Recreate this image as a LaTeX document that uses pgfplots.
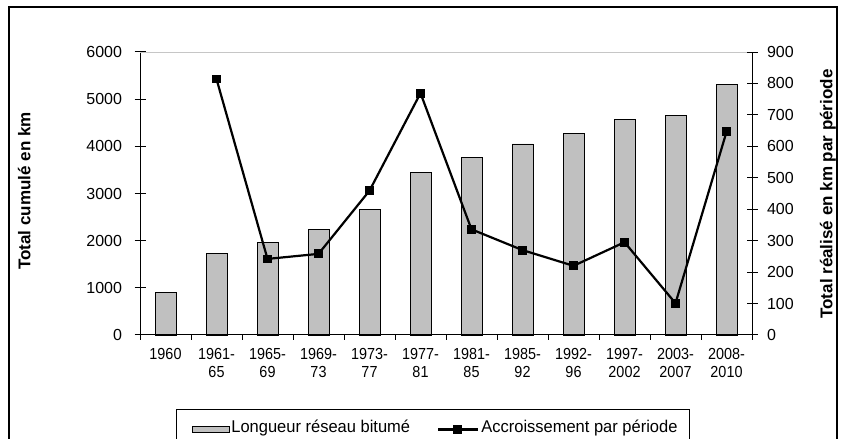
\documentclass[border=0pt]{standalone}
\usepackage{fontspec}
\setmainfont{Liberation Sans}
\newfontfamily\narrowfont{Liberation Sans}[FakeStretch=0.9]
\newfontfamily\legfont{Liberation Sans}[FakeStretch=0.97]
\usepackage{pgfplots}
\pgfplotsset{compat=1.18}
\definecolor{barfill}{HTML}{C0C0C0}
\pgfplotsset{
  barlegend/.style={legend image code/.code={\path (0pt,0pt); \draw[fill=barfill,draw=black,line width=0.8pt] (5pt,-3pt) rectangle (42pt,3pt);}},
  linelegend/.style={legend image code/.code={\draw[##1, mark repeat=2, mark phase=2] plot coordinates {(0pt,0pt) (19pt,0pt) (40pt,0pt)};}},
  common/.style={at={(140pt,104pt)}, anchor=south west, scale only axis,
    width=612pt, height=283pt, xmin=-0.5, xmax=11.5, clip=false},
}
\begin{document}
\begin{tikzpicture}[x=1pt,y=1pt]
\useasboundingbox (0,0) rectangle (846,439);
\draw[line width=1.3pt] (9,-10) -- (9,432) -- (837,432) -- (837,-10);

% axis 1: bars, left y axis
\begin{axis}[common,
  ymin=0, ymax=6000,
  hide x axis,
  axis y line*=left,
  ytick={0,1000,...,6000},
  tick align=center, major tick length=11pt,
  axis line style={line width=1pt},
  tick style={line width=1pt, black},
  yticklabel style={font=\fontsize{16}{19}\selectfont, /pgf/number format/1000 sep={}, /pgf/number format/assume math mode=true, xshift=-9pt},
  extra y ticks={6000}, extra y tick labels={},
  extra y tick style={grid=major, major grid style={gray!45, line width=0.8pt}, major tick length=0pt},
  every axis y label/.style={at={(axis description cs:-0.189,0.509)}, rotate=90, anchor=center, font=\bfseries\fontsize{17}{20}\selectfont},
  ylabel={Total cumulé en km},
]
\addplot[ybar, bar width=21pt, fill=barfill, draw=black, line width=0.8pt] coordinates {
(0,910) (1,1735) (2,1960) (3,2230) (4,2670) (5,3445) (6,3770) (7,4050) (8,4270) (9,4570) (10,4650) (11,5320)};
\end{axis}

% axis 2: line, right y axis, legend
\begin{axis}[common,
  ymin=0, ymax=900,
  hide x axis,
  axis y line*=right,
  ytick={0,100,...,900},
  tick align=center, major tick length=11pt,
  axis line style={line width=1pt},
  tick style={line width=1pt, black},
  yticklabel style={font=\fontsize{16}{19}\selectfont, /pgf/number format/1000 sep={}, /pgf/number format/assume math mode=true, xshift=6pt},
  every axis y label/.style={at={(axis description cs:1.124,0.498)}, rotate=90, anchor=center, font=\bfseries\fontsize{17}{20}\selectfont},
  ylabel={Total réalisé en km par période},
  legend columns=2,
  legend style={at={(axis description cs:0.0588,-0.2615)}, anchor=north west,
    draw=black, line width=1pt, fill=white,
    inner xsep=10pt, inner ysep=9pt,
    font=\legfont\fontsize{17}{20}\selectfont,
    nodes={inner sep=2pt, text height=12pt, text depth=6pt},
    /tikz/every even column/.append style={column sep=25pt},
    cells={anchor=west}},
]
\addlegendimage{barlegend}
\addlegendentry{Longueur réseau bitumé}
\addplot[black, line width=2.2pt, mark=square*, mark size=3.3pt, mark options={solid}, linelegend] coordinates {
(1,814) (2,242) (3,258) (4,459) (5,769) (6,336) (7,270) (8,220) (9,295) (10,101) (11,646)};
\addlegendentry{Accroissement par période}
\end{axis}

% axis 3: x axis with category labels and boundary ticks
\begin{axis}[common,
  ymin=0, ymax=1,
  hide y axis,
  axis x line*=bottom,
  axis line style={line width=1pt},
  xtick={0,...,11},
  xticklabels={1960,{1961-\\65},{1965-\\69},{1969-\\73},{1973-\\77},{1977-\\81},{1981-\\85},{1985-\\92},{1992-\\96},{1997-\\2002},{2003-\\2007},{2008-\\2010}},
  minor xtick={-0.5,0.5,...,11.5},
  major tick length=0pt, minor tick length=5pt,
  tick align=outside,
  tick style={line width=1pt, black},
  xticklabel style={font=\narrowfont\fontsize{16}{18}\selectfont, align=center, anchor=north, yshift=-10pt},
]
\addplot[draw=none] coordinates {(0,0)};
\end{axis}
\end{tikzpicture}
\end{document}
